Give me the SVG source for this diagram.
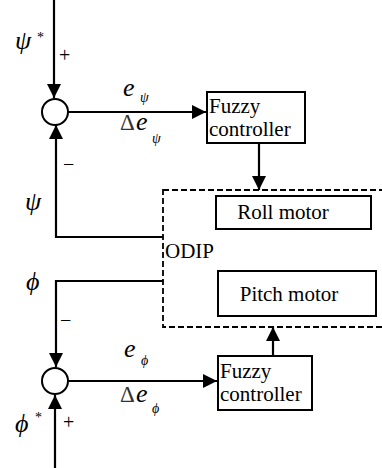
<svg xmlns="http://www.w3.org/2000/svg" width="382" height="468" viewBox="0 0 382 468">
<style>
.ln{fill:none;stroke:#000;stroke-width:2.2}
.bx{fill:#fff;stroke:#000;stroke-width:2}
.sum{fill:#fff;stroke:#000;stroke-width:2}
.dash{fill:none;stroke:#000;stroke-width:1.8;stroke-dasharray:6,3}
text{font-family:'Liberation Serif','Times New Roman','DejaVu Serif',serif;fill:#000}
.t{font-size:21px}
.g{font-style:italic;font-size:26px}
.e{font-style:italic;font-size:26px}
.s{font-style:italic;font-size:14px}
.d{font-size:23px;fill:#333}
.pm{font-size:20px}
.st{font-size:14px}
</style>
<defs>
<marker id="ah" markerUnits="userSpaceOnUse" markerWidth="14" markerHeight="14" viewBox="0 0 14 14" refX="14" refY="7" orient="auto">
<path d="M0,0 L14,7 L0,14 Z" fill="#000"/>
</marker>
</defs>
<g id="odip">
<rect class="dash" x="163" y="190" width="230" height="137"/>
<text class="t" x="165" y="258">ODIP</text>
</g>
<g id="connectors">
<path class="ln" d="M54,0 V98" marker-end="url(#ah)"/>
<path class="ln" d="M163,237 H56 V125" marker-end="url(#ah)"/>
<path class="ln" d="M68,112 H206" marker-end="url(#ah)"/>
<path class="ln" d="M259,143 V190" marker-end="url(#ah)"/>
<path class="ln" d="M163,281 H56 V367" marker-end="url(#ah)"/>
<path class="ln" d="M55,468 V395" marker-end="url(#ah)"/>
<path class="ln" d="M68,381 H217" marker-end="url(#ah)"/>
<path class="ln" d="M273,356 V327" marker-end="url(#ah)"/>
</g>
<g id="sum1">
<circle class="sum" cx="55" cy="112" r="13"/>
</g>
<g id="sum2">
<circle class="sum" cx="55" cy="381" r="13"/>
</g>
<g id="fuzzy1">
<rect class="bx" x="207" y="92" width="98" height="51"/>
<text class="t" x="209" y="113">Fuzzy</text>
<text class="t" x="209" y="136">controller</text>
</g>
<g id="roll">
<rect class="bx" x="216" y="196" width="155" height="33"/>
<text class="t" x="283" y="219" text-anchor="middle">Roll motor</text>
</g>
<g id="pitch">
<rect class="bx" x="218" y="271" width="158" height="45"/>
<text class="t" x="289" y="301" text-anchor="middle">Pitch motor</text>
</g>
<g id="fuzzy2">
<rect class="bx" x="218" y="356" width="94" height="54"/>
<text class="t" x="220" y="378">Fuzzy</text>
<text class="t" x="220" y="401">controller</text>
</g>
<g id="labels">
<text class="g" x="15" y="49">ψ</text>
<text class="st" x="37" y="42">*</text>
<text class="pm" x="59" y="62">+</text>
<text class="pm" x="63" y="171">−</text>
<text class="g" x="25" y="210">ψ</text>
<text class="g" x="26" y="290">ϕ</text>
<text class="pm" x="60" y="327">−</text>
<text class="g" x="15" y="432">ϕ</text>
<text class="st" x="35" y="422">*</text>
<text class="pm" x="63" y="429">+</text>
<text class="e" x="123" y="96">e</text>
<text class="s" x="140" y="102">ψ</text>
<text class="d" x="120" y="130">Δ</text>
<text class="e" x="136" y="130">e</text>
<text class="s" x="152" y="143">ψ</text>
<text class="e" x="124" y="357">e</text>
<text class="s" x="141" y="365">ϕ</text>
<text class="d" x="120" y="402">Δ</text>
<text class="e" x="136" y="402">e</text>
<text class="s" x="152" y="413">ϕ</text>
</g>
</svg>
